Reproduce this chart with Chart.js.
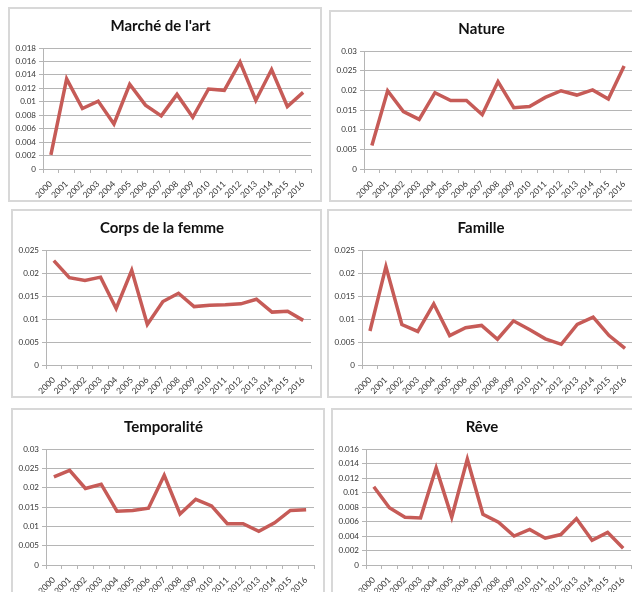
<!DOCTYPE html>
<html><head><meta charset="utf-8">
<script src="https://cdn.jsdelivr.net/npm/chart.js@4"></script>
<style>
html,body{margin:0;padding:0;background:#fff;width:632px;height:592px;overflow:hidden;position:relative;}
.panel{position:absolute;border:2px solid #d8d8d8;box-sizing:border-box;background:#fff;}
.panel canvas{display:block;}
</style></head><body>
<script>
const years = ['2000','2001','2002','2003','2004','2005','2006','2007','2008','2009','2010','2011','2012','2013','2014','2015','2016'];
const titles = ["Marché de l'art", "Nature", "Corps de la femme", "Famille", "Temporalité", "Rêve"];
const marcheArt   = [0.0021,0.0134,0.0090,0.0101,0.0067,0.0126,0.0095,0.0079,0.0111,0.0077,0.0119,0.0117,0.0159,0.0102,0.0148,0.0093,0.0114];
const nature      = [0.0060,0.0199,0.0146,0.0126,0.0194,0.0174,0.0174,0.0138,0.0222,0.0156,0.0159,0.0182,0.0199,0.0188,0.0201,0.0178,0.0262];
const corpsFemme  = [0.0227,0.0190,0.0184,0.0191,0.0123,0.0206,0.0088,0.0138,0.0156,0.0127,0.0130,0.0131,0.0133,0.0143,0.0115,0.0117,0.0097];
const famille     = [0.0074,0.0214,0.0088,0.0073,0.0133,0.0064,0.0081,0.0086,0.0056,0.0096,0.0077,0.0057,0.0045,0.0088,0.0104,0.0064,0.0036];
const temporalite = [0.0228,0.0245,0.0198,0.0209,0.0139,0.0141,0.0147,0.0232,0.0132,0.0170,0.0153,0.0107,0.0107,0.0087,0.0109,0.0141,0.0143];
const reve        = [0.0108,0.0079,0.0066,0.0065,0.0134,0.0066,0.0146,0.0070,0.0059,0.0040,0.0049,0.0037,0.0042,0.0064,0.0034,0.0045,0.0023];
const yMax  = [0.018, 0.03, 0.025, 0.025, 0.03, 0.016];
const yStep = [0.002, 0.005, 0.005, 0.005, 0.005, 0.002];
const series = [marcheArt, nature, corpsFemme, famille, temporalite, reve];

// layout: [left, top, width, height] of each framed panel
const panels = [[8,7,314,195],[329,10,314,192],[11,209,311,189],[327,209,317,189],[11,408,314,190],[331,408,311,190]];

Chart.defaults.font.family = 'Lato, "Open Sans", sans-serif';
Chart.defaults.color = '#333';

series.forEach((data, i) => {
  const [x, y, w, h] = panels[i];
  const div = document.createElement('div');
  div.className = 'panel';
  div.style.left = x + 'px'; div.style.top = y + 'px';
  div.style.width = w + 'px'; div.style.height = h + 'px';
  const cv = document.createElement('canvas');
  cv.width = w - 4; cv.height = h - 4;
  cv.style.width = (w - 4) + 'px'; cv.style.height = (h - 4) + 'px';
  div.appendChild(cv);
  document.body.appendChild(div);
  new Chart(cv.getContext('2d'), {
    type: 'line',
    data: {
      labels: years,
      datasets: [{
        data: data,
        borderColor: '#c65b57',
        borderWidth: 3.5,
        pointRadius: 0,
        tension: 0,
        fill: false
      }]
    },
    options: {
      responsive: false,
      devicePixelRatio: 1,
      animation: false,
      layout: { padding: { left: 0, right: 9, top: 0, bottom: 0 } },
      plugins: {
        legend: { display: false },
        tooltip: { enabled: false },
        title: {
          display: true,
          text: titles[i],
          color: '#111',
          font: { size: 15, weight: 'bold' },
          padding: { top: 8, bottom: 13 }
        }
      },
      scales: {
        x: {
          offset: true,
          grid: { display: true, offset: true, drawOnChartArea: false, drawTicks: true, tickLength: 4, color: '#b5b5b5' },
          border: { display: true, color: '#b5b5b5' },
          ticks: { minRotation: 45, maxRotation: 45, autoSkip: false, font: { size: 8.5 }, padding: 6, color: '#333' },
          afterFit: s => { s.height = 31; }
        },
        y: {
          min: 0, max: yMax[i],
          grid: { color: '#b5b5b5', tickLength: 4, drawTicks: true },
          border: { display: true, color: '#b5b5b5' },
          ticks: {
            stepSize: yStep[i],
            font: { size: 8 },
            padding: 3,
            color: '#333',
            callback: v => String(+(+v).toFixed(4))
          },
          afterFit: s => { s.width = 33; }
        }
      }
    }
  });
});
</script>
</body></html>
